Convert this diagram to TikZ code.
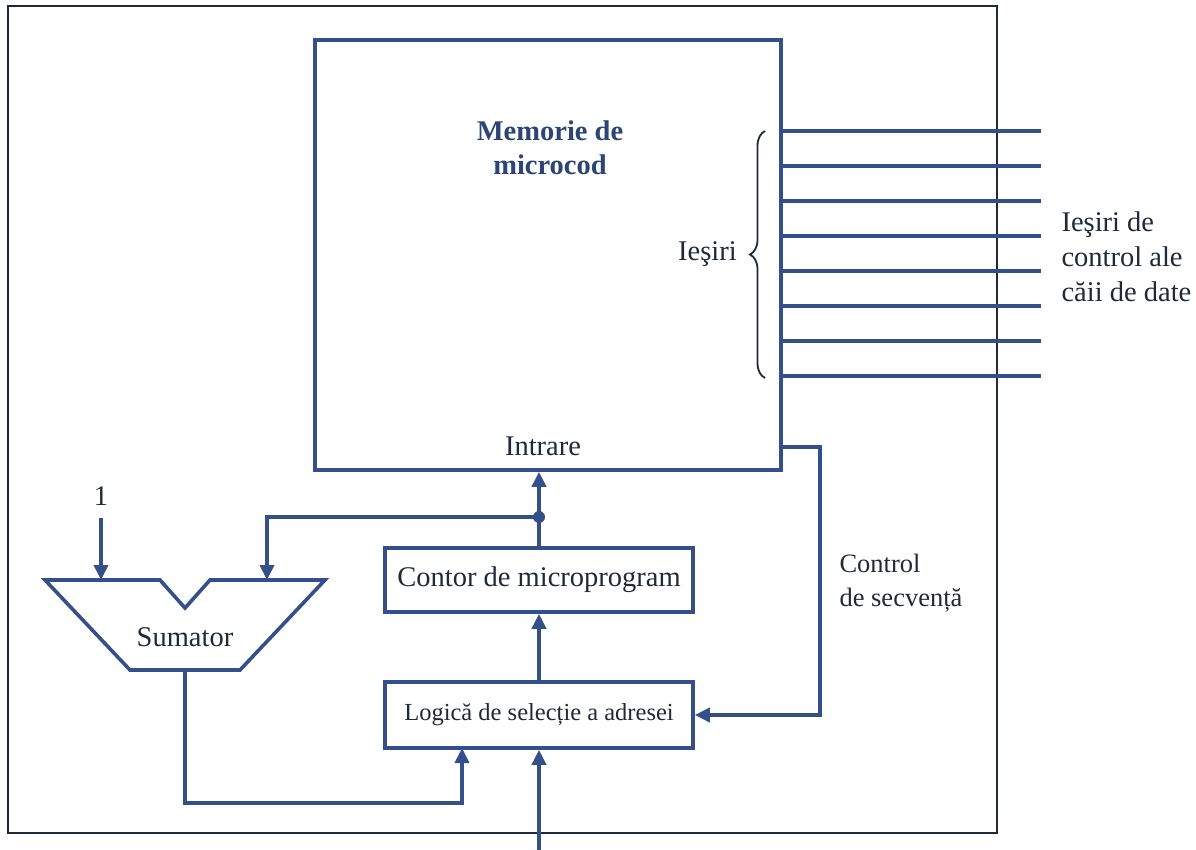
\documentclass[tikz,border=0pt]{standalone}
\usepackage{fontspec}
\setmainfont{Liberation Serif}
\usetikzlibrary{arrows.meta,decorations.pathreplacing}

\definecolor{wireblue}{HTML}{34508A}
\definecolor{inkgrey}{HTML}{22283A}
\definecolor{titleblue}{HTML}{2C4576}

\begin{document}
\begin{tikzpicture}[x=1pt,y=-1pt,
  wire/.style={wireblue,line width=4pt},
  arr/.style={wire,-{Triangle[width=14pt,length=15pt]}},
  blk/.style={draw=wireblue,line width=3.6pt,fill=white,inner sep=0pt},
  lbl/.style={text=inkgrey,font=\fontsize{28.5}{35}\selectfont,align=left}]
\useasboundingbox (0,0) rectangle (1196,850);
% outer frame
\draw[inkgrey,line width=2.4pt] (8,6) rectangle (997,833);
% blocks
\node[blk,minimum width=466pt,minimum height=430pt] (mem) at (548,255) {};
\node[titleblue,font=\bfseries\fontsize{28.5}{34}\selectfont,align=center] (title) at (550,148) {Memorie de\\microcod};
\node[lbl] (intrare) at (543,446) {Intrare};
\node[blk,lbl,minimum width=308pt,minimum height=64pt] (cnt) at (539,580) {Contor de microprogram};
\node[blk,lbl,font=\fontsize{24.5}{30}\selectfont,minimum width=308pt,minimum height=66pt] (lgc) at (539,715) {Logică de selecție a adresei};
% adder
\draw[wireblue,line width=3.6pt,line join=miter] (45,580) -- (160,580) -- (185,608) -- (210,580)
  -- (325,580) -- (240,670) -- (130,670) -- cycle;
\node[lbl] (sum) at (185,637) {Sumator};
\node[lbl] (one) at (101,496) {1};
\coordinate (inA) at (101,580);
\coordinate (inB) at (267,580);
\coordinate (oneend) at (101,518);
\coordinate (sumout) at (185,670);
\coordinate (jn) at (539,517);
\coordinate (lgin) at (462,748);
\coordinate (addrin) at (539,850);
\coordinate (sq) at (781,447);
\coordinate (sqc) at (820,447);
% outputs
\foreach \i in {0,...,7} {
  \coordinate (o\i) at (1041,131+35*\i);
  \draw[wire,line width=3.4pt] (mem.east |- o\i) -- (o\i);
}
\draw[inkgrey,line width=1.8pt,decorate,decoration={brace,amplitude=15pt}]
  (765,378) -- (765,131) node[midway,left=24pt,lbl] (iesiri) {Ieşiri};
\node[lbl,anchor=west] (ctl) at (1058,257) {Ieşiri de\\control ale\\căii de date};
% connectors
\draw[arr] (cnt.north) -- (jn) -- (jn |- mem.south);
\fill[wireblue] (jn) circle (6pt);
\draw[arr] (jn) -| (inB);
\draw[arr] (oneend) -- (inA);
\draw[arr] (lgc.north) -- (cnt.south);
\draw[arr] (sumout) -- ++(0,133) -| (lgin);
\draw[arr] (addrin) -- (lgc.south);
\draw[arr] (sq) -- (sqc) |- (lgc.east);
\node[lbl,anchor=west,font=\fontsize{26.5}{34}\selectfont] (secv) at (836,583) {Control\\de secvență};
\end{tikzpicture}
\end{document}
